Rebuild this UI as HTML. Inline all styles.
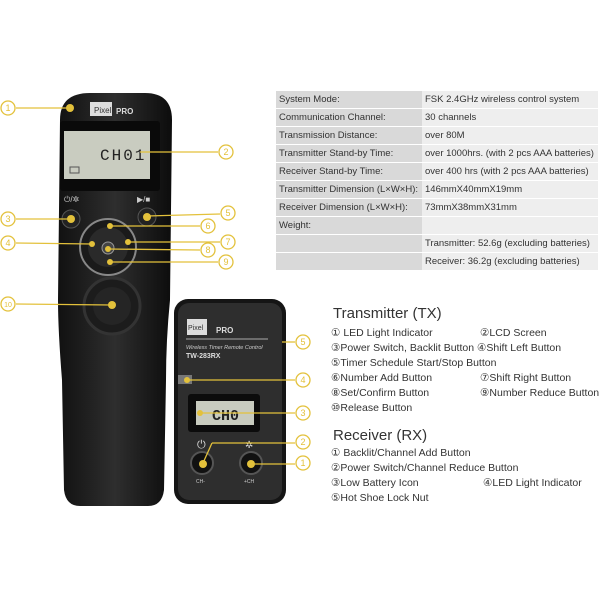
<!DOCTYPE html>
<html><head><meta charset="utf-8"><style>
body{margin:0;background:#fff;width:600px;height:600px;overflow:hidden;font-family:"Liberation Sans","DejaVu Sans",sans-serif}
svg{position:absolute;left:0;top:0}
.tb{position:absolute;left:276px;top:91px;width:322px;border-collapse:collapse;font-size:9.5px;color:#333}
.tb td{height:17px;border-bottom:1px solid #fff;padding:0 3px;white-space:nowrap}
.tb td.l{background:#d9d9d9;width:140px}
.tb td.r{background:#eeeeee}
.lg{position:absolute;font-size:10.5px;color:#333;white-space:nowrap}
.h{position:absolute;font-size:15px;color:#333}
</style></head><body>
<svg width="600" height="600" viewBox="0 0 600 600">
<defs>
<linearGradient id="g1" x1="0" x2="1"><stop offset="0" stop-color="#111"/><stop offset=".5" stop-color="#2e2e2e"/><stop offset="1" stop-color="#0c0c0c"/></linearGradient>
</defs>
<!-- transmitter -->
<path d="M60 120 Q60 93 90 93 L145 93 Q172 93 172 120 L170 300 Q166 340 166 380 L164 490 Q162 506 148 506 L80 506 Q66 506 64 490 L62 380 Q58 330 58 300 Z" fill="url(#g1)"/>
<rect x="90" y="102" width="22" height="14" fill="#ddd"/><text x="94" y="113" font-size="8" fill="#333">Pixel</text>
<text x="116" y="114" font-size="8" font-weight="bold" fill="#ddd">PRO</text>
<text x="130" y="127" font-size="6" fill="#ccc">TW-283</text>
<rect x="60" y="121" width="100" height="70" rx="3" fill="#0a0a0a"/>
<rect x="64" y="131" width="86" height="48" fill="#c9ccc0"/>
<text x="100" y="160" font-size="16" font-family="Liberation Mono" fill="#222" letter-spacing="2">CH01</text>
<rect x="70" y="167" width="9" height="6" fill="none" stroke="#555"/>
<text x="64" y="202" font-size="8" fill="#ccc">⏻/✲</text><text x="137" y="202" font-size="8" fill="#ccc">▶/■</text>
<circle cx="71" cy="219" r="9" fill="#222" stroke="#555"/><circle cx="147" cy="217" r="9" fill="#222" stroke="#555"/>
<circle cx="108" cy="247" r="28" fill="#1a1a1a" stroke="#888" stroke-width="2"/>
<circle cx="108" cy="247" r="20" fill="#2a2a2a"/>
<circle cx="108" cy="248" r="6" fill="#444" stroke="#999"/>
<circle cx="112" cy="306" r="28" fill="#1c1c1c" stroke="#333" stroke-width="3"/>
<circle cx="112" cy="306" r="19" fill="#252525"/>
<!-- receiver -->
<rect x="174" y="299" width="112" height="205" rx="14" fill="#151515"/>
<rect x="178" y="303" width="104" height="197" rx="11" fill="#2e2e2e"/>
<rect x="187" y="319" width="20" height="16" fill="#ddd"/><text x="188" y="330" font-size="7" fill="#333">Pixel</text>
<text x="216" y="333" font-size="8" font-weight="bold" fill="#ddd">PRO</text>
<line x1="186" y1="339" x2="268" y2="339" stroke="#aaa"/>
<text x="186" y="349" font-size="5.5" fill="#ccc" font-style="italic">Wireless Timer Remote Control</text>
<text x="186" y="358" font-size="7" font-weight="bold" fill="#ddd">TW-283RX</text>
<rect x="178" y="375" width="14" height="9" fill="#777"/>
<rect x="188" y="394" width="72" height="38" rx="3" fill="#0c0c0c"/>
<rect x="196" y="401" width="58" height="24" fill="#c8cbbf"/>
<text x="212" y="420" font-size="15" font-family="Liberation Mono" font-weight="bold" fill="#222">CH0</text>
<text x="197" y="448" font-size="11" fill="#ddd">⏻</text><text x="245" y="448" font-size="10" fill="#ddd">✲</text>
<circle cx="202" cy="463" r="11" fill="#111" stroke="#555" stroke-width="2"/><circle cx="251" cy="463" r="11" fill="#111" stroke="#555" stroke-width="2"/>
<text x="196" y="483" font-size="5" fill="#ccc">CH-</text><text x="244" y="483" font-size="5" fill="#ccc">+CH</text>
<g stroke="#e3c13b" stroke-width="1.3" fill="none">
<line x1="16" y1="108" x2="70" y2="108"/><line x1="140" y1="152" x2="218" y2="152"/>
<line x1="16" y1="219" x2="71" y2="219"/><line x1="147" y1="216" x2="220" y2="214"/>
<line x1="110" y1="226" x2="200" y2="226"/><line x1="128" y1="242" x2="220" y2="242"/>
<line x1="108" y1="249" x2="200" y2="250"/><line x1="110" y1="262" x2="218" y2="262"/>
<line x1="16" y1="243" x2="92" y2="244"/><line x1="16" y1="304" x2="112" y2="305"/>
<line x1="282" y1="342" x2="295" y2="342"/><line x1="188" y1="380" x2="295" y2="380"/>
<line x1="200" y1="413" x2="295" y2="413"/><line x1="203" y1="463" x2="212" y2="443" /><line x1="212" y1="443" x2="295" y2="443"/>
<line x1="251" y1="464" x2="295" y2="464"/>
<circle cx="8" cy="108" r="7"/><circle cx="226" cy="152" r="7"/><circle cx="8" cy="219" r="7"/><circle cx="228" cy="213" r="7"/>
<circle cx="208" cy="226" r="7"/><circle cx="228" cy="242" r="7"/><circle cx="208" cy="250" r="7"/><circle cx="226" cy="262" r="7"/>
<circle cx="8" cy="243" r="7"/><circle cx="8" cy="304" r="7"/>
<circle cx="303" cy="342" r="7"/><circle cx="303" cy="380" r="7"/><circle cx="303" cy="413" r="7"/><circle cx="303" cy="442" r="7"/><circle cx="303" cy="463" r="7"/>
</g>
<g fill="#e3c13b">
<circle cx="70" cy="108" r="4"/><circle cx="71" cy="219" r="4"/><circle cx="147" cy="217" r="4"/><circle cx="110" cy="226" r="3"/><circle cx="128" cy="242" r="3"/><circle cx="108" cy="249" r="3"/><circle cx="110" cy="262" r="3"/><circle cx="92" cy="244" r="3"/><circle cx="112" cy="305" r="4"/><circle cx="187" cy="380" r="3"/><circle cx="200" cy="413" r="3"/><circle cx="203" cy="464" r="4"/><circle cx="251" cy="464" r="4"/>
</g>
<g font-size="9" fill="#e3c13b" text-anchor="middle">
<text x="8" y="111">1</text><text x="226" y="155">2</text><text x="8" y="222">3</text><text x="228" y="216">5</text><text x="208" y="229">6</text><text x="228" y="245">7</text><text x="208" y="253">8</text><text x="226" y="265">9</text><text x="8" y="246">4</text><text x="8" y="307" font-size="7">10</text>
<text x="303" y="345">5</text><text x="303" y="383">4</text><text x="303" y="416">3</text><text x="303" y="445">2</text><text x="303" y="466">1</text>
</g>
</svg>
<table class="tb">
<tr><td class="l">System Mode:</td><td class="r">FSK 2.4GHz wireless control system</td></tr>
<tr><td class="l">Communication Channel:</td><td class="r">30 channels</td></tr>
<tr><td class="l">Transmission Distance:</td><td class="r">over 80M</td></tr>
<tr><td class="l">Transmitter Stand-by Time:</td><td class="r">over 1000hrs. (with 2 pcs AAA batteries)</td></tr>
<tr><td class="l">Receiver Stand-by Time:</td><td class="r">over 400 hrs (with 2 pcs AAA batteries)</td></tr>
<tr><td class="l">Transmitter Dimension (L×W×H):</td><td class="r">146mmX40mmX19mm</td></tr>
<tr><td class="l">Receiver Dimension (L×W×H):</td><td class="r">73mmX38mmX31mm</td></tr>
<tr><td class="l">Weight:</td><td class="r"></td></tr>
<tr><td class="l"></td><td class="r">Transmitter: 52.6g (excluding batteries)</td></tr>
<tr><td class="l"></td><td class="r">Receiver: 36.2g (excluding batteries)</td></tr>
</table>
<div class="h" style="left:333px;top:305px">Transmitter (TX)</div>
<div class="lg" style="left:331px;top:327px">① LED Light Indicator</div><div class="lg" style="left:480px;top:327px">②LCD Screen</div>
<div class="lg" style="left:331px;top:342px">③Power Switch, Backlit Button ④Shift Left Button</div>
<div class="lg" style="left:331px;top:357px">⑤Timer Schedule Start/Stop Button</div>
<div class="lg" style="left:331px;top:372px">⑥Number Add Button</div><div class="lg" style="left:480px;top:372px">⑦Shift Right Button</div>
<div class="lg" style="left:331px;top:387px">⑧Set/Confirm Button</div><div class="lg" style="left:480px;top:387px">⑨Number Reduce Button</div>
<div class="lg" style="left:331px;top:402px">⑩Release Button</div>
<div class="h" style="left:333px;top:427px">Receiver (RX)</div>
<div class="lg" style="left:331px;top:447px">① Backlit/Channel Add Button</div>
<div class="lg" style="left:331px;top:462px">②Power Switch/Channel Reduce Button</div>
<div class="lg" style="left:331px;top:477px">③Low Battery Icon</div><div class="lg" style="left:483px;top:477px">④LED Light Indicator</div>
<div class="lg" style="left:331px;top:492px">⑤Hot Shoe Lock Nut</div>
</body></html>
